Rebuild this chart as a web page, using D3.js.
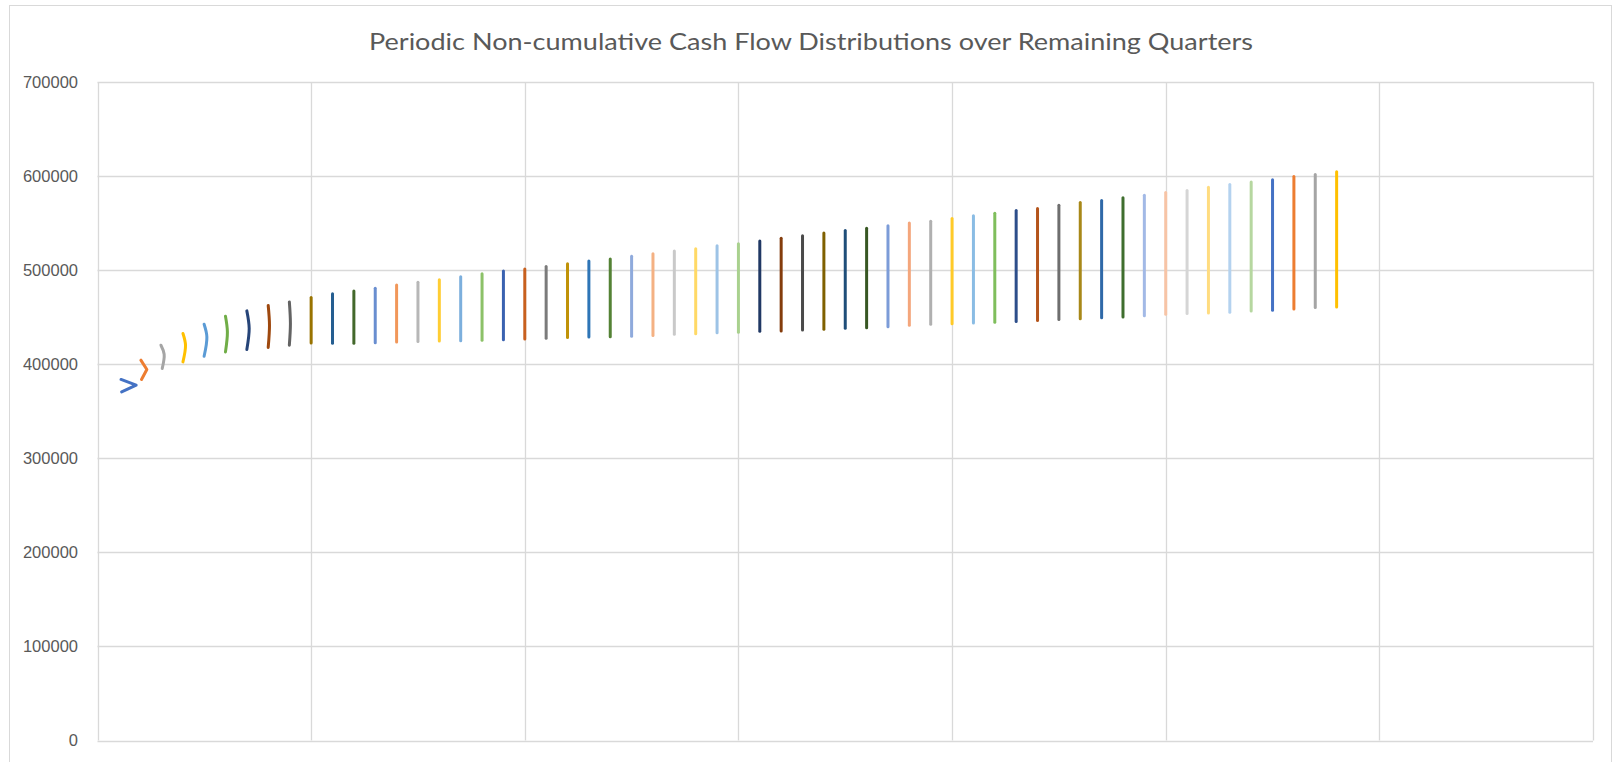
<!DOCTYPE html>
<html>
<head>
<meta charset="utf-8">
<script src="https://cdn.jsdelivr.net/npm/d3@7"></script>
<style>
  html, body { margin: 0; padding: 0; background: #ffffff; }
  svg { display: block; }
</style>
</head>
<body>
<svg id="chart" width="1614" height="762"></svg>
<script>
// ---------------- data ----------------
const chartTitle = "Periodic Non-cumulative Cash Flow Distributions over Remaining Quarters";
const yTicks = [0, 100000, 200000, 300000, 400000, 500000, 600000, 700000];
const xGridTicks = [0, 10, 20, 30, 40, 50, 60, 70];

// first nine series: three points each (top, bend, bottom)
const curvedX = [
  [1.10, 1.81, 1.13], [2.03, 2.31, 2.06], [2.97, 3.12, 3.03],
  [4.00, 4.12, 4.00], [4.99, 5.12, 4.99], [5.99, 6.08, 5.99],
  [6.99, 7.10, 6.99], [7.99, 8.05, 7.99], [8.98, 9.03, 8.98]
];
const curvedY = [
  [383800, 377700, 370500], [404300, 394400, 383800], [420200, 410600, 395500],
  [432700, 420300, 402500], [442500, 429000, 408500], [451000, 434300, 413100],
  [456700, 437900, 415700], [462400, 441500, 417800], [466200, 443300, 420200]
];

// remaining series: vertical spans from top to bottom value
const quarters = [10,11,12,13,14,15,16,17,18,19,20,21,22,23,24,25,26,27,28,29,30,31,32,33,34,
  35,36,37,38,39,40,41,42,43,44,45,46,47,48,49,50,51,52,53,54,55,56,57,58];
const topValues = [470800,475000,477800,480700,484200,487000,489700,492900,496100,499000,
  501200,504000,506900,509700,511800,514700,517500,520300,522800,526000,528100,530900,
  533800,536600,539400,542200,544600,547200,550000,552100,555000,557800,560600,563500,
  565600,569100,572000,574100,577000,579700,582600,584700,588200,591100,593600,596100,
  599600,601700,604600];
const bottomValues = [422600,422200,422300,422700,423600,424200,424600,424900,425400,426100,
  426800,427500,428300,428900,429300,429700,430400,431800,432500,433400,433900,435000,
  435300,436300,437100,438200,438700,439800,441300,442400,443100,443800,444500,445300,
  446600,447400,448400,449500,450100,451600,453000,453800,454400,455200,456500,457300,
  458700,460200,460800];

const palette = [
  "#4472C4","#ED7D31","#A5A5A5","#FFC000","#5B9BD5","#70AD47",
  "#264478","#9E480E","#636363","#997300","#255E91","#43682B",
  "#698ED0","#F1975A","#B7B7B7","#FFCD33","#7CAFDD","#8CC168",
  "#3A62B0","#C8601F","#7B7B7B","#C09208","#2E75B6","#548235",
  "#8FAADC","#F4B183","#C9C9C9","#FFD966","#9DC3E6","#A9D18E",
  "#203864","#843C0C","#4A4A4A","#7F6000","#1F4E79","#385723",
  "#7C9CD8","#F4A67C","#B0B0B0","#FFCA28","#8ABCE4","#7FBE5C",
  "#2D4E8A","#B4541B","#6E6E6E","#A88818","#2F69A8","#3F6E2E",
  "#A2B9E6","#F7C4A6","#D5D5D5","#FFDC80","#B4D2EF","#B6D7A0"
];

// ---------------- layout ----------------
const svg = d3.select("#chart");
const plot = { left: 97.5, right: 1593, top: 82, bottom: 740.5 };

const x = d3.scaleLinear().domain([0, 70]).range([plot.left, plot.right]);
const y = d3.scaleLinear().domain([0, 700000]).range([plot.bottom, plot.top]);

// chart area border
svg.append("rect")
  .attr("x", 9.5).attr("y", 5.5)
  .attr("width", 1602).attr("height", 770)
  .attr("fill", "#ffffff").attr("stroke", "#D9D9D9").attr("stroke-width", 1);

// title
svg.append("text")
  .attr("x", 811).attr("y", 50)
  .attr("text-anchor", "middle")
  .attr("font-family", "'Liberation Sans Narrow', 'Lato', sans-serif")
  .attr("font-size", 24)
  .attr("fill", "#595959")
  .attr("textLength", 884)
  .attr("lengthAdjust", "spacingAndGlyphs")
  .text(chartTitle);

// gridlines
const grid = svg.append("g");
grid.selectAll("line.h").data(yTicks).enter().append("line")
  .attr("x1", plot.left).attr("x2", plot.right)
  .attr("y1", d => Math.round(y(d)) + 0.5).attr("y2", d => Math.round(y(d)) + 0.5)
  .attr("stroke", "#D9D9D9").attr("stroke-width", 1.3);
grid.selectAll("line.v").data(xGridTicks).enter().append("line")
  .attr("y1", plot.top).attr("y2", plot.bottom)
  .attr("x1", d => Math.round(x(d)) + 0.5).attr("x2", d => Math.round(x(d)) + 0.5)
  .attr("stroke", "#D9D9D9").attr("stroke-width", 1.3);

// y axis labels via d3 axis
const yAxis = d3.axisLeft(y).tickValues(yTicks).tickFormat(d3.format("d")).tickSize(0).tickPadding(0);
const yg = svg.append("g").attr("transform", `translate(78,0)`).call(yAxis);
yg.select(".domain").remove();
yg.selectAll("text")
  .attr("font-family", "'Liberation Sans', Arial, sans-serif")
  .attr("font-size", 16.5)
  .attr("fill", "#595959");

// series
const straightLine = d3.line().x(d => x(d[0])).y(d => y(d[1]));
const smoothLine = d3.line().x(d => x(d[0])).y(d => y(d[1])).curve(d3.curveCatmullRom.alpha(0.5));
const seriesData = [];
curvedX.forEach((xs, i) => {
  seriesData.push(xs.map((xv, j) => [xv, curvedY[i][j]]));
});
quarters.forEach((q, i) => {
  seriesData.push([[q, topValues[i]], [q, bottomValues[i]]]);
});

svg.append("g").selectAll("path").data(seriesData).enter().append("path")
  .attr("d", (d, i) => i < 2 ? straightLine(d) : smoothLine(d))
  .attr("fill", "none")
  .attr("stroke", (d, i) => palette[i % palette.length])
  .attr("stroke-width", 3)
  .attr("stroke-linecap", "round")
  .attr("stroke-linejoin", "round");
</script>
</body>
</html>
